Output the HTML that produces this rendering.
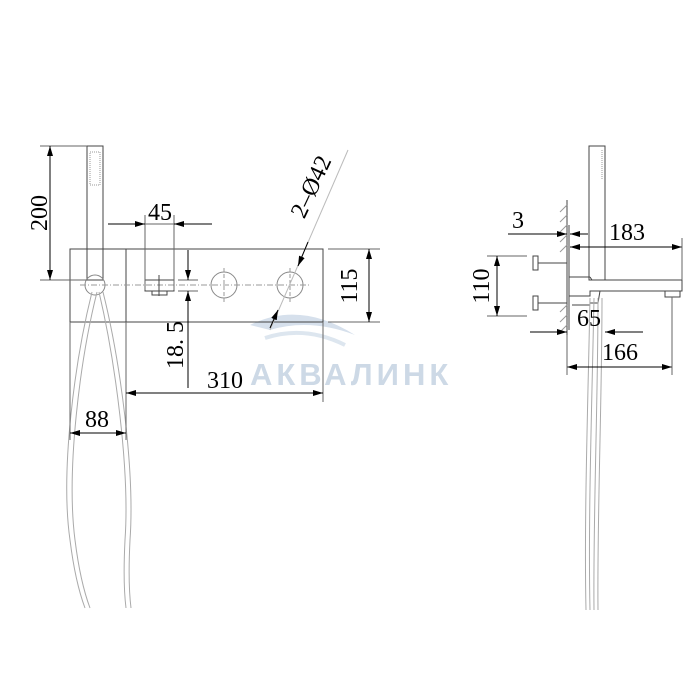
<!DOCTYPE html>
<html><head><style>body{margin:0;background:#fff}svg{display:block}</style></head><body>
<svg width="700" height="700" viewBox="0 0 700 700" xmlns="http://www.w3.org/2000/svg" font-family="Liberation Serif, serif">
<defs>
<marker id="a" viewBox="0 0 10 6" refX="10" refY="3" markerWidth="10" markerHeight="6" orient="auto-start-reverse" markerUnits="userSpaceOnUse"><path d="M0,0L10,3L0,6z" fill="#000"/></marker>
</defs>
<!-- watermark -->
<path d="M250,325 Q300,300 355,335 Q310,318 270,330 Z" fill="#d6e0ec"/>
<path d="M265,338 Q305,325 345,345" stroke="#dde6ef" stroke-width="4" fill="none"/>
<text x="250" y="385" font-family="Liberation Sans, sans-serif" font-weight="bold" font-size="31" fill="#cdd9e6" letter-spacing="4">АКВАЛИНК</text>

<g stroke="#444" stroke-width="1" fill="none">
<!-- LEFT VIEW -->
<rect x="87" y="146" width="16" height="134"/>
<rect x="90" y="152" width="10" height="33" stroke="#999" stroke-dasharray="1,1"/>
<rect x="70" y="249" width="253" height="73"/>
<line x1="126" y1="249" x2="126" y2="322"/>
<circle cx="95" cy="285" r="10" stroke="#888"/>
<rect x="145" y="280" width="29" height="11"/>
<rect x="152" y="291" width="15" height="4"/>
<circle cx="224" cy="285" r="13" stroke="#888"/>
<circle cx="290" cy="285" r="13" stroke="#888"/>
<line x1="80" y1="285" x2="310" y2="285" stroke="#999" stroke-dasharray="6,2,1,2"/>
<line x1="224" y1="268" x2="224" y2="302" stroke="#999" stroke-dasharray="4,2"/>
<line x1="290" y1="268" x2="290" y2="302" stroke="#999" stroke-dasharray="4,2"/>
<line x1="159" y1="275" x2="159" y2="296"/>
<!-- hose -->
<g stroke="#aaa">
<path d="M92,292 C75,360 60,470 70,540 C75,580 82,600 85,608"/>
<path d="M97,292 C80,360 66,470 75,540 C80,580 87,600 90,608"/>
<path d="M99,292 C115,360 130,470 125,540 C123,580 125,600 126,608"/>
<path d="M103,292 C120,360 135,470 130,540 C128,580 130,600 131,608"/>
</g>
<!-- dims -->
<line x1="40" y1="146" x2="87" y2="146" stroke="#666"/>
<line x1="40" y1="280" x2="87" y2="280" stroke="#666"/>
<line x1="50" y1="146" x2="50" y2="280" stroke="#000" marker-start="url(#a)" marker-end="url(#a)"/>
<line x1="145" y1="215" x2="145" y2="290" stroke="#666"/>
<line x1="174" y1="215" x2="174" y2="290" stroke="#666"/>
<line x1="108" y1="224" x2="145" y2="224" stroke="#000" marker-end="url(#a)"/>
<line x1="212" y1="224" x2="174" y2="224" stroke="#000" marker-end="url(#a)"/>
<line x1="145" y1="224" x2="174" y2="224" stroke="#666"/>
<line x1="178" y1="280" x2="198" y2="280" stroke="#666"/>
<line x1="178" y1="291" x2="198" y2="291" stroke="#666"/>
<line x1="188" y1="250" x2="188" y2="280" stroke="#000" marker-end="url(#a)"/>
<line x1="188" y1="388" x2="188" y2="291" stroke="#000" marker-end="url(#a)"/>
<line x1="328" y1="249" x2="380" y2="249" stroke="#666"/>
<line x1="328" y1="322" x2="380" y2="322" stroke="#666"/>
<line x1="369" y1="249" x2="369" y2="322" stroke="#000" marker-start="url(#a)" marker-end="url(#a)"/>
<line x1="323" y1="322" x2="323" y2="402" stroke="#666"/>
<line x1="126" y1="322" x2="126" y2="440" stroke="#666"/>
<line x1="70" y1="322" x2="70" y2="440" stroke="#666"/>
<line x1="126" y1="393" x2="323" y2="393" stroke="#000" marker-start="url(#a)" marker-end="url(#a)"/>
<line x1="70" y1="433" x2="126" y2="433" stroke="#000" marker-start="url(#a)" marker-end="url(#a)"/>
<line x1="348" y1="150" x2="270" y2="330" stroke="#bbb"/>
<line x1="308" y1="242" x2="298" y2="266" stroke="#000" marker-end="url(#a)"/>
<line x1="270" y1="328" x2="278" y2="310" stroke="#000" marker-end="url(#a)"/>

<!-- RIGHT VIEW -->
<rect x="589" y="146" width="16" height="134"/>
<line x1="602" y1="150" x2="602" y2="180" stroke="#999" stroke-dasharray="1,1"/>
<line x1="567" y1="200" x2="567" y2="335"/>
<g stroke="#999">
<line x1="560" y1="212" x2="567" y2="205"/><line x1="560" y1="222" x2="567" y2="215"/><line x1="560" y1="232" x2="567" y2="225"/><line x1="560" y1="242" x2="567" y2="235"/><line x1="560" y1="252" x2="567" y2="245"/>
<line x1="560" y1="312" x2="567" y2="305"/><line x1="560" y1="322" x2="567" y2="315"/><line x1="560" y1="332" x2="567" y2="325"/>
</g>
<line x1="569" y1="225" x2="569" y2="330"/>
<line x1="538" y1="263" x2="567" y2="263"/>
<line x1="538" y1="303" x2="567" y2="303"/>
<rect x="533" y="256" width="5" height="14"/>
<rect x="533" y="296" width="5" height="14"/>
<line x1="569" y1="277" x2="590" y2="277"/>
<path d="M590,277 L592,280 L682,280 L682,291 L600,291"/>
<rect x="665" y="291" width="15" height="6"/>
<path d="M569,296 L590,296 L590,291 L600,291 L598,303 L590,303"/>
<line x1="572" y1="305" x2="590" y2="305"/>
<g stroke="#aaa">
<path d="M590,298 C588,400 584,520 586,610"/><path d="M594,298 C592,400 588,520 590,610"/>
<path d="M598,298 C598,400 593,520 594,610"/><path d="M602,298 C602,400 597,520 598,610"/>
</g>
<line x1="487" y1="256" x2="527" y2="256" stroke="#666"/>
<line x1="487" y1="316" x2="527" y2="316" stroke="#666"/>
<line x1="497" y1="256" x2="497" y2="316" stroke="#000" marker-start="url(#a)" marker-end="url(#a)"/>
<line x1="508" y1="234" x2="567" y2="234" stroke="#000" marker-end="url(#a)"/>
<line x1="588" y1="234" x2="570" y2="234" stroke="#000" marker-end="url(#a)"/>
<line x1="570" y1="247" x2="682" y2="247" stroke="#000" marker-start="url(#a)" marker-end="url(#a)"/>
<line x1="682" y1="238" x2="682" y2="280" stroke="#666"/>
<line x1="530" y1="332" x2="567" y2="332" stroke="#000" marker-end="url(#a)"/>
<line x1="643" y1="332" x2="605" y2="332" stroke="#000" marker-end="url(#a)"/>
<line x1="567" y1="367" x2="672" y2="367" stroke="#000" marker-start="url(#a)" marker-end="url(#a)"/>
<line x1="567" y1="335" x2="567" y2="375" stroke="#666"/>
<line x1="672" y1="297" x2="672" y2="375" stroke="#666"/>
</g>

<g font-size="24" fill="#000">
<text transform="translate(47,213) rotate(-90)" text-anchor="middle">200</text>
<text x="160" y="220" text-anchor="middle">45</text>
<text transform="translate(183,345) rotate(-90)" text-anchor="middle">18. 5</text>
<text transform="translate(357,286) rotate(-90)" text-anchor="middle">115</text>
<text x="225" y="388" text-anchor="middle">310</text>
<text x="97" y="427" text-anchor="middle">88</text>
<text transform="translate(318,190) rotate(-65)" text-anchor="middle">2–Ø42</text>
<text x="489" y="286" text-anchor="middle" transform="rotate(-90,489,286)">110</text>
<text x="518" y="228" text-anchor="middle">3</text>
<text x="627" y="240" text-anchor="middle">183</text>
<text x="589" y="326" text-anchor="middle">65</text>
<text x="620" y="360" text-anchor="middle">166</text>
</g>
</svg>
</body></html>
